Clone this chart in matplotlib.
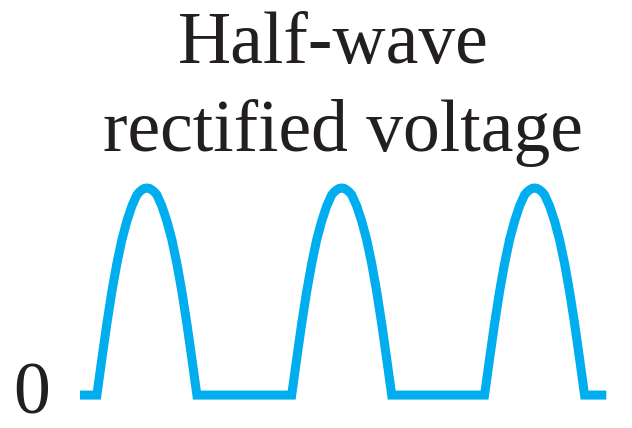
import matplotlib
matplotlib.use('Agg')
import matplotlib.pyplot as plt

# one hump of the rectified wave
# (u = position inside the hump from -1 to 1, v = voltage relative to peak)
hump_u = [-1.0, -0.9, -0.8, -0.7, -0.6, -0.5, -0.4, -0.3, -0.2, -0.15, -0.1, -0.05,
          0.0, 0.05, 0.1, 0.15, 0.2, 0.3, 0.4, 0.5, 0.6, 0.7, 0.8, 0.9, 1.0]
hump_v = [0.0, 0.175, 0.345, 0.50, 0.635, 0.75, 0.84, 0.913, 0.967, 0.981, 0.991, 0.998,
          1.0, 0.998, 0.991, 0.981, 0.967, 0.913, 0.84, 0.75, 0.635, 0.50, 0.345, 0.175, 0.0]

# time axis in periods
hump_centers = [0.25, 1.255, 2.25]
hump_half_width = 0.258
t_start = -0.095
t_end = 2.62

title_lines = ['Half-wave', 'rectified voltage']
zero_label = '0'

# build the curve: flat zero, then each hump
t = [t_start]
v = [0.0]
for c in hump_centers:
    for u, val in zip(hump_u, hump_v):
        t.append(c + u * hump_half_width)
        v.append(val)
t.append(t_end)
v.append(0.0)

fig = plt.figure(figsize=(6.32, 4.28), dpi=100)
ax = fig.add_axes([0, 0, 1, 1])
ax.plot(t, v, color='#00aeef', linewidth=6.5,
        solid_joinstyle='miter', solid_capstyle='butt')
ax.set_xlim(-0.5077, 2.7526)
ax.set_ylim(-0.159, 1.908)
ax.axis('off')

serif = ['Liberation Serif', 'DejaVu Serif']
fig.text(333 / 632, 1 - 63 / 428, title_lines[0], ha='center', va='baseline',
         fontsize=53, family=serif, color='#231f20')
fig.text(342.5 / 632, 1 - 151 / 428, title_lines[1], ha='center', va='baseline',
         fontsize=53, family=serif, color='#231f20')
fig.text(31.5 / 632, 1 - 414 / 428, zero_label, ha='center', va='baseline',
         fontsize=53, family=serif, color='#231f20')

fig.savefig('out.png', dpi=100)
